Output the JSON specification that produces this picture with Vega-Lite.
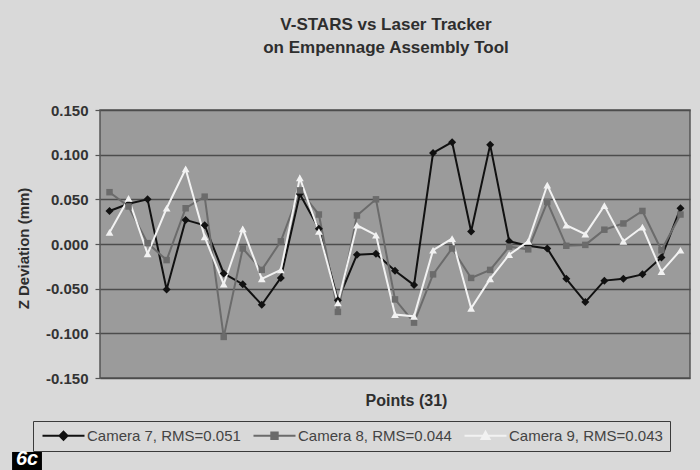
{
  "$schema": "https://vega.github.io/schema/vega-lite/v6.json",
  "width": 590,
  "height": 268,
  "autosize": {"type": "none"},
  "padding": {"left": 100, "top": 110, "right": 10, "bottom": 92},
  "background": "#d9d9d9",
  "title": {
    "text": ["V-STARS vs Laser Tracker", "on Empennage Assembly Tool"],
    "anchor": "middle",
    "frame": "group",
    "dx": -9,
    "offset": 46,
    "font": "Liberation Sans",
    "fontSize": 17,
    "fontWeight": "bold",
    "color": "#2e2e2e",
    "lineHeight": 23
  },
  "config": {
    "view": {"fill": "#9b9b9b", "stroke": "#555555", "strokeWidth": 1.5},
    "axis": {
      "labelFont": "Liberation Sans",
      "titleFont": "Liberation Sans",
      "labelColor": "#333333",
      "titleColor": "#2e2e2e"
    }
  },
  "datasets": {
    "pts": [
      {"pt": 1, "series": "Camera 7, RMS=0.051", "z": 0.037},
      {"pt": 2, "series": "Camera 7, RMS=0.051", "z": 0.045},
      {"pt": 3, "series": "Camera 7, RMS=0.051", "z": 0.050},
      {"pt": 4, "series": "Camera 7, RMS=0.051", "z": -0.051},
      {"pt": 5, "series": "Camera 7, RMS=0.051", "z": 0.027},
      {"pt": 6, "series": "Camera 7, RMS=0.051", "z": 0.021},
      {"pt": 7, "series": "Camera 7, RMS=0.051", "z": -0.033},
      {"pt": 8, "series": "Camera 7, RMS=0.051", "z": -0.045},
      {"pt": 9, "series": "Camera 7, RMS=0.051", "z": -0.068},
      {"pt": 10, "series": "Camera 7, RMS=0.051", "z": -0.038},
      {"pt": 11, "series": "Camera 7, RMS=0.051", "z": 0.056},
      {"pt": 12, "series": "Camera 7, RMS=0.051", "z": 0.017},
      {"pt": 13, "series": "Camera 7, RMS=0.051", "z": -0.063},
      {"pt": 14, "series": "Camera 7, RMS=0.051", "z": -0.012},
      {"pt": 15, "series": "Camera 7, RMS=0.051", "z": -0.011},
      {"pt": 16, "series": "Camera 7, RMS=0.051", "z": -0.030},
      {"pt": 17, "series": "Camera 7, RMS=0.051", "z": -0.046},
      {"pt": 18, "series": "Camera 7, RMS=0.051", "z": 0.102},
      {"pt": 19, "series": "Camera 7, RMS=0.051", "z": 0.114},
      {"pt": 20, "series": "Camera 7, RMS=0.051", "z": 0.014},
      {"pt": 21, "series": "Camera 7, RMS=0.051", "z": 0.111},
      {"pt": 22, "series": "Camera 7, RMS=0.051", "z": 0.003},
      {"pt": 23, "series": "Camera 7, RMS=0.051", "z": -0.002},
      {"pt": 24, "series": "Camera 7, RMS=0.051", "z": -0.005},
      {"pt": 25, "series": "Camera 7, RMS=0.051", "z": -0.039},
      {"pt": 26, "series": "Camera 7, RMS=0.051", "z": -0.065},
      {"pt": 27, "series": "Camera 7, RMS=0.051", "z": -0.041},
      {"pt": 28, "series": "Camera 7, RMS=0.051", "z": -0.039},
      {"pt": 29, "series": "Camera 7, RMS=0.051", "z": -0.034},
      {"pt": 30, "series": "Camera 7, RMS=0.051", "z": -0.015},
      {"pt": 31, "series": "Camera 7, RMS=0.051", "z": 0.040},
      {"pt": 1, "series": "Camera 8, RMS=0.044", "z": 0.058},
      {"pt": 2, "series": "Camera 8, RMS=0.044", "z": 0.042},
      {"pt": 3, "series": "Camera 8, RMS=0.044", "z": 0.001},
      {"pt": 4, "series": "Camera 8, RMS=0.044", "z": -0.018},
      {"pt": 5, "series": "Camera 8, RMS=0.044", "z": 0.040},
      {"pt": 6, "series": "Camera 8, RMS=0.044", "z": 0.053},
      {"pt": 7, "series": "Camera 8, RMS=0.044", "z": -0.104},
      {"pt": 8, "series": "Camera 8, RMS=0.044", "z": -0.005},
      {"pt": 9, "series": "Camera 8, RMS=0.044", "z": -0.029},
      {"pt": 10, "series": "Camera 8, RMS=0.044", "z": 0.003},
      {"pt": 11, "series": "Camera 8, RMS=0.044", "z": 0.060},
      {"pt": 12, "series": "Camera 8, RMS=0.044", "z": 0.033},
      {"pt": 13, "series": "Camera 8, RMS=0.044", "z": -0.076},
      {"pt": 14, "series": "Camera 8, RMS=0.044", "z": 0.032},
      {"pt": 15, "series": "Camera 8, RMS=0.044", "z": 0.050},
      {"pt": 16, "series": "Camera 8, RMS=0.044", "z": -0.062},
      {"pt": 17, "series": "Camera 8, RMS=0.044", "z": -0.088},
      {"pt": 18, "series": "Camera 8, RMS=0.044", "z": -0.034},
      {"pt": 19, "series": "Camera 8, RMS=0.044", "z": -0.005},
      {"pt": 20, "series": "Camera 8, RMS=0.044", "z": -0.038},
      {"pt": 21, "series": "Camera 8, RMS=0.044", "z": -0.029},
      {"pt": 22, "series": "Camera 8, RMS=0.044", "z": -0.003},
      {"pt": 23, "series": "Camera 8, RMS=0.044", "z": -0.006},
      {"pt": 24, "series": "Camera 8, RMS=0.044", "z": 0.047},
      {"pt": 25, "series": "Camera 8, RMS=0.044", "z": -0.002},
      {"pt": 26, "series": "Camera 8, RMS=0.044", "z": -0.001},
      {"pt": 27, "series": "Camera 8, RMS=0.044", "z": 0.016},
      {"pt": 28, "series": "Camera 8, RMS=0.044", "z": 0.023},
      {"pt": 29, "series": "Camera 8, RMS=0.044", "z": 0.037},
      {"pt": 30, "series": "Camera 8, RMS=0.044", "z": -0.007},
      {"pt": 31, "series": "Camera 8, RMS=0.044", "z": 0.033},
      {"pt": 1, "series": "Camera 9, RMS=0.043", "z": 0.013},
      {"pt": 2, "series": "Camera 9, RMS=0.043", "z": 0.051},
      {"pt": 3, "series": "Camera 9, RMS=0.043", "z": -0.011},
      {"pt": 4, "series": "Camera 9, RMS=0.043", "z": 0.040},
      {"pt": 5, "series": "Camera 9, RMS=0.043", "z": 0.084},
      {"pt": 6, "series": "Camera 9, RMS=0.043", "z": 0.008},
      {"pt": 7, "series": "Camera 9, RMS=0.043", "z": -0.045},
      {"pt": 8, "series": "Camera 9, RMS=0.043", "z": 0.017},
      {"pt": 9, "series": "Camera 9, RMS=0.043", "z": -0.039},
      {"pt": 10, "series": "Camera 9, RMS=0.043", "z": -0.029},
      {"pt": 11, "series": "Camera 9, RMS=0.043", "z": 0.074},
      {"pt": 12, "series": "Camera 9, RMS=0.043", "z": 0.014},
      {"pt": 13, "series": "Camera 9, RMS=0.043", "z": -0.066},
      {"pt": 14, "series": "Camera 9, RMS=0.043", "z": 0.021},
      {"pt": 15, "series": "Camera 9, RMS=0.043", "z": 0.010},
      {"pt": 16, "series": "Camera 9, RMS=0.043", "z": -0.079},
      {"pt": 17, "series": "Camera 9, RMS=0.043", "z": -0.081},
      {"pt": 18, "series": "Camera 9, RMS=0.043", "z": -0.007},
      {"pt": 19, "series": "Camera 9, RMS=0.043", "z": 0.006},
      {"pt": 20, "series": "Camera 9, RMS=0.043", "z": -0.072},
      {"pt": 21, "series": "Camera 9, RMS=0.043", "z": -0.039},
      {"pt": 22, "series": "Camera 9, RMS=0.043", "z": -0.012},
      {"pt": 23, "series": "Camera 9, RMS=0.043", "z": 0.003},
      {"pt": 24, "series": "Camera 9, RMS=0.043", "z": 0.066},
      {"pt": 25, "series": "Camera 9, RMS=0.043", "z": 0.021},
      {"pt": 26, "series": "Camera 9, RMS=0.043", "z": 0.011},
      {"pt": 27, "series": "Camera 9, RMS=0.043", "z": 0.043},
      {"pt": 28, "series": "Camera 9, RMS=0.043", "z": 0.003},
      {"pt": 29, "series": "Camera 9, RMS=0.043", "z": 0.019},
      {"pt": 30, "series": "Camera 9, RMS=0.043", "z": -0.031},
      {"pt": 31, "series": "Camera 9, RMS=0.043", "z": -0.007}
    ],
    "tag": [{"label": "6c"}]
  },
  "layer": [
    {
      "data": {"name": "pts"},
      "mark": {"type": "line", "strokeWidth": 2},
      "encoding": {
        "x": {
          "field": "pt",
          "type": "quantitative",
          "scale": {"domain": [0.5, 31.5], "nice": false, "zero": false},
          "axis": {
            "title": "Points (31)",
            "labels": false,
            "ticks": false,
            "domain": false,
            "grid": false,
            "titleFontSize": 16,
            "titleFontWeight": "bold",
            "titleX": 306,
            "titleY": 22,
            "titleBaseline": "middle",
            "titleAlign": "center"
          }
        },
        "y": {
          "field": "z",
          "type": "quantitative",
          "scale": {"domain": [-0.15, 0.15], "nice": false, "zero": false},
          "axis": {
            "title": "Z Deviation (mm)",
            "values": [-0.15, -0.1, -0.05, 0, 0.05, 0.1, 0.15],
            "labelExpr": "datum.value < -0.0001 ? '-' + format(-datum.value, '.3f') : format(abs(datum.value), '.3f')",
            "labelFontSize": 15,
            "labelFontWeight": "bold",
            "labelPadding": 7,
            "tickSize": 5,
            "tickColor": "#555555",
            "tickWidth": 1.2,
            "domain": false,
            "grid": true,
            "gridColor": "#4c4c4c",
            "gridWidth": 1.5,
            "titleFontSize": 15,
            "titleFontWeight": "bold",
            "titleX": -77,
            "titleY": 138,
            "titleBaseline": "middle",
            "titleAlign": "center"
          }
        },
        "color": {
          "field": "series",
          "type": "nominal",
          "scale": {
            "domain": ["Camera 7, RMS=0.051", "Camera 8, RMS=0.044", "Camera 9, RMS=0.043"],
            "range": ["#111111", "#6b6b6b", "#f2f2f2"]
          },
          "legend": {
            "title": null,
            "orient": "none",
            "direction": "horizontal",
            "columns": 3,
            "legendX": -67,
            "legendY": 311,
            "padding": 7,
            "columnPadding": 8,
            "strokeColor": "#3a3a3a",
            "fillColor": "#d9d9d9",
            "symbolSize": 100,
            "symbolStrokeWidth": 2,
            "labelOffset": 32,
            "labelFont": "Liberation Sans",
            "labelFontSize": 15,
            "labelFontWeight": "normal",
            "labelColor": "#444444",
            "labelLimit": 300,
            "encode": {
              "symbols": {
                "update": {
                  "shape": {"signal": "datum.value === 'Camera 7, RMS=0.051' ? 'M-1,0H7.4M3.2,-0.8L4,0L3.2,0.8L2.4,0Z' : datum.value === 'Camera 8, RMS=0.044' ? 'M-1,0H7.4M2.56,-0.64H3.84V0.64H2.56Z' : 'M-1,0H7.4M3.2,-0.8L4,0.64H2.4Z'"},
                  "size": {"value": 100},
                  "fill": {"signal": "scale('color', datum.value)"},
                  "stroke": {"signal": "scale('color', datum.value)"},
                  "strokeWidth": {"value": 2},
                  "opacity": {"value": 1}
                }
              }
            }
          }
        }
      }
    },
    {
      "data": {"name": "pts"},
      "transform": [{"filter": "datum.series === 'Camera 7, RMS=0.051'"}],
      "mark": {"type": "point", "filled": true, "opacity": 1, "shape": "diamond", "size": 64, "color": "#111111"},
      "encoding": {
        "x": {"field": "pt", "type": "quantitative"},
        "y": {"field": "z", "type": "quantitative"}
      }
    },
    {
      "data": {"name": "pts"},
      "transform": [{"filter": "datum.series === 'Camera 8, RMS=0.044'"}],
      "mark": {"type": "point", "filled": true, "opacity": 1, "shape": "square", "size": 42, "color": "#6b6b6b"},
      "encoding": {
        "x": {"field": "pt", "type": "quantitative"},
        "y": {"field": "z", "type": "quantitative"}
      }
    },
    {
      "data": {"name": "pts"},
      "transform": [{"filter": "datum.series === 'Camera 9, RMS=0.043'"}],
      "mark": {"type": "point", "filled": true, "opacity": 1, "shape": "triangle-up", "size": 60, "color": "#f2f2f2"},
      "encoding": {
        "x": {"field": "pt", "type": "quantitative"},
        "y": {"field": "z", "type": "quantitative"}
      }
    },
    {
      "data": {"name": "tag"},
      "mark": {"type": "rect", "color": "#000000"},
      "encoding": {
        "x": {"datum": -4.12, "type": "quantitative"},
        "x2": {"datum": -2.55},
        "y": {"datum": -0.2328, "type": "quantitative"},
        "y2": {"datum": -0.26}
      }
    },
    {
      "data": {"name": "tag"},
      "mark": {"type": "text", "color": "#ffffff", "font": "Liberation Sans", "fontSize": 20, "fontStyle": "italic", "fontWeight": "bold", "baseline": "bottom", "align": "center"},
      "encoding": {
        "x": {"datum": -3.33, "type": "quantitative"},
        "y": {"datum": -0.2517, "type": "quantitative"},
        "text": {"field": "label", "type": "nominal"}
      }
    }
  ]
}
